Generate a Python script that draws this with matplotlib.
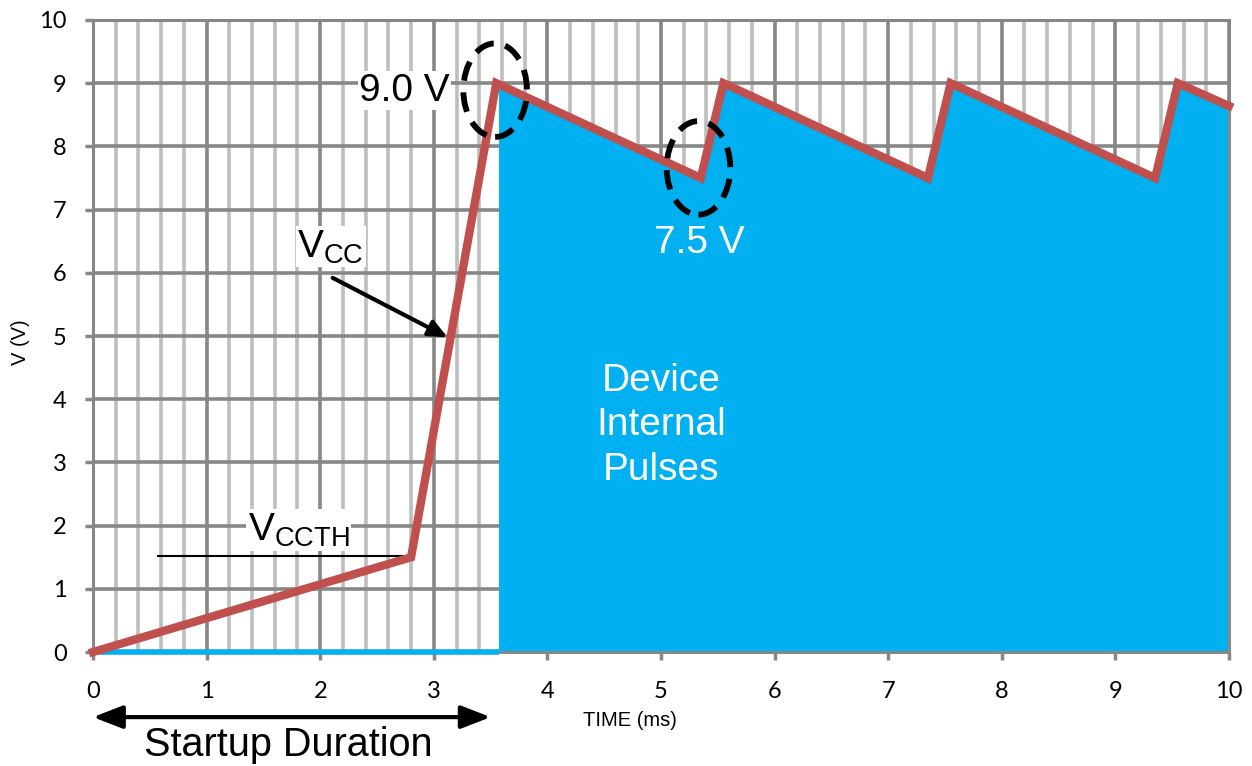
import numpy as np
import matplotlib
matplotlib.use("Agg")
from matplotlib import pyplot as plt
from matplotlib.patches import Ellipse

plt.rcParams['mathtext.fontset'] = 'custom'
plt.rcParams['mathtext.rm'] = 'Liberation Sans'
plt.rcParams['mathtext.it'] = 'Liberation Sans'

# Vcc waveform (ms, V)
t_vcc = [0, 2.8, 3.55, 5.35, 5.55, 7.35, 7.55, 9.35, 9.55, 10]
v_vcc = [0, 1.5, 9.0, 7.5, 9.0, 7.5, 9.0, 7.5, 9.0, 8.64]

# blue "internal pulses" region
t_fill = [3.57, 5.35, 5.55, 7.35, 7.55, 9.35, 9.55, 10]
v_fill = [8.98, 7.5, 9.0, 7.5, 9.0, 7.5, 9.0, 8.64]
t_startup = 3.57

x_ticks = list(range(0, 11))
y_ticks = list(range(0, 11))

red = '#C0504D'
blue = '#00B0F0'
major_grey = '#878787'
minor_grey = '#BEBEBE'
txt_font = 'Liberation Sans'

fig = plt.figure(figsize=(12.52, 7.66), dpi=100)
ax = fig.add_axes([0.0743, 0.1488, 0.9073, 0.8251])
ax.set_xlim(0, 10)
ax.set_ylim(0, 10)

# grid
ax.set_xticks(x_ticks)
ax.set_yticks(y_ticks)
ax.set_xticks(np.arange(0, 10.01, 0.2), minor=True)
ax.grid(which='minor', axis='x', color=minor_grey, lw=2.6, zorder=0)
ax.grid(which='major', axis='both', color=major_grey, lw=2.6, zorder=0)
ax.set_axisbelow(True)
for s in ax.spines.values():
    s.set_color(major_grey)
    s.set_linewidth(2.2)
ax.tick_params(which='major', direction='out', length=6, width=2.5, color=major_grey,
               labelsize=17, pad=13)
ax.tick_params(which='minor', length=0)
ax.tick_params(axis='x', pad=15)
for lab in ax.get_xticklabels() + ax.get_yticklabels():
    lab.set_fontfamily('Lato')

# fill and line
ax.fill_between(t_fill, 0, v_fill, color=blue, lw=0, zorder=2)
ax.plot([0, t_startup], [0, 0], color=blue, lw=4, solid_capstyle='butt', zorder=3, clip_on=False)
ax.plot(t_vcc, v_vcc, color=red, lw=6, zorder=4, solid_joinstyle='miter', clip_on=False)

# dashed ellipses
for cx, cy in [(3.54, 8.89), (5.33, 7.66)]:
    ax.add_patch(Ellipse((cx, cy), 0.56, 1.48, fill=False, ec='black', lw=4.2,
                         ls=(0, (3.4, 2.0)), zorder=5))

box = dict(facecolor='white', edgecolor='none', pad=1)
ax.text(3.14, 8.88, '9.0 V', ha='right', va='center', fontsize=28, family=txt_font,
        bbox=box, zorder=3)
ax.text(5.34, 6.47, '7.5 V', ha='center', va='center', fontsize=28, family=txt_font,
        color='white', zorder=3)
ax.text(5.0, 3.59, 'Device\nInternal\nPulses', ha='center', va='center', fontsize=28,
        family=txt_font, color='white', linespacing=1.3, zorder=3)

ax.text(1.80, 6.41, r'$\mathrm{V_{CC}}$', ha='left', va='center', fontsize=28,
        bbox=box, zorder=3)
ax.annotate('', xy=(3.12, 4.98), xytext=(2.11, 5.92),
            arrowprops=dict(arrowstyle='-|>,head_length=1.1,head_width=0.5',
                            color='black', lw=3, shrinkA=0, shrinkB=0), zorder=5)

ax.text(1.36, 1.93, r'$\mathrm{V_{CCTH}}$', ha='left', va='center', fontsize=28,
        bbox=box, zorder=3)
ax.plot([0.57, 2.79], [1.52, 1.52], color='black', lw=1.5, zorder=3)

# startup duration arrow below the axis
ax.annotate('', xy=(0, -1.03), xytext=(3.5, -1.03), annotation_clip=False,
            arrowprops=dict(arrowstyle='<|-|>,head_length=1.8,head_width=0.7',
                            color='black', lw=3, shrinkA=0, shrinkB=0))
ax.text(1.72, -1.47, 'Startup Duration', ha='center', va='center', fontsize=28.5,
        family=txt_font, clip_on=False)

ax.text(4.73, -1.08, 'TIME (ms)', ha='center', va='center', fontsize=14.5,
        family=txt_font, clip_on=False)
ax.text(-0.64, 4.9, 'V (V)', ha='center', va='center', fontsize=14.5, rotation=90,
        family=txt_font, clip_on=False)

fig.savefig('out.png', dpi=100)
